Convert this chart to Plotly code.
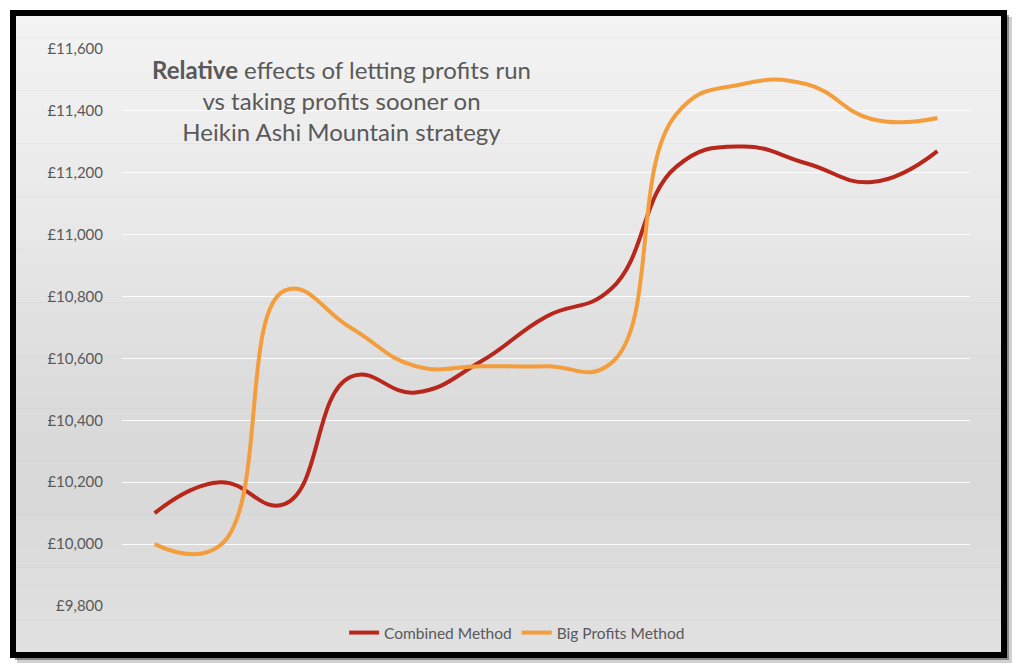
import plotly.graph_objects as go

# trade number (x categories, no labels shown on the chart)
trades = [1, 2, 3, 4, 5, 6, 7, 8, 9, 10, 11, 12, 13]

combined = [10100, 10200, 10130, 10540, 10490, 10590, 10735, 10825, 11220, 11285, 11230, 11170, 11270]
big_profits = [10000, 9995, 10820, 10700, 10575, 10575, 10575, 10585, 11390, 11486, 11486, 11373, 11377]

y_ticks = [9800, 10000, 10200, 10400, 10600, 10800, 11000, 11200, 11400, 11600]
y_labels = ["£9,800", "£10,000", "£10,200", "£10,400", "£10,600", "£10,800",
            "£11,000", "£11,200", "£11,400", "£11,600"]

title_text = ("<b>Relative</b> effects of letting profits run<br>"
              "vs taking profits sooner on<br>Heikin Ashi Mountain strategy")

W, H = 1024, 671
L, R, T, B = 122, 970, 49, 606


def px(x):
    return (x - L) / (R - L)


def py(y):
    return (B - y) / (B - T)


shapes = []

# drop shadow behind the frame
shapes.append(dict(type="rect", xref="paper", yref="paper", layer="below",
                   x0=px(17), x1=px(1012), y0=py(663), y1=py(17),
                   fillcolor="rgba(0,0,0,0.18)", line_width=0))
shapes.append(dict(type="rect", xref="paper", yref="paper", layer="below",
                   x0=px(15), x1=px(1009), y0=py(660), y1=py(15),
                   fillcolor="rgba(0,0,0,0.35)", line_width=0))

# gradient background, done as thin bands
top, bottom = 16, 652
n = 60
stops = [(16, 243), (200, 234), (400, 219), (500, 217), (652, 225)]


def grey_at(y):
    for (y0, c0), (y1, c1) in zip(stops, stops[1:]):
        if y0 <= y <= y1:
            return c0 + (c1 - c0) * (y - y0) / (y1 - y0)
    return stops[-1][1]


for i in range(n):
    y0 = top + (bottom - top) * i / n
    y1 = top + (bottom - top) * (i + 1) / n
    g = int(round(grey_at((y0 + y1) / 2)))
    shapes.append(dict(type="rect", xref="paper", yref="paper", layer="below",
                       x0=px(16), x1=px(1001), y0=py(y1 + 0.5), y1=py(y0),
                       fillcolor="rgb(%d,%d,%d)" % (g, g, g), line_width=0))

# black frame
shapes.append(dict(type="rect", xref="paper", yref="paper", layer="below",
                   x0=px(13), x1=px(1004), y0=py(655), y1=py(13),
                   fillcolor="rgba(0,0,0,0)", line=dict(color="black", width=6)))

fig = go.Figure()
fig.add_trace(go.Scatter(x=trades, y=combined, mode="lines", name="Combined Method",
                         line=dict(color="#B8271C", width=4, shape="spline", smoothing=1.3)))
fig.add_trace(go.Scatter(x=trades, y=big_profits, mode="lines", name="Big Profits Method",
                         line=dict(color="#F39D3D", width=4, shape="spline", smoothing=1.3)))

fig.update_layout(
    width=W, height=H,
    margin=dict(l=L, r=W - R, t=T, b=H - B, autoexpand=False),
    paper_bgcolor="white",
    plot_bgcolor="rgba(0,0,0,0)",
    font=dict(family="Lato, sans-serif", color="#595959", size=15),
    shapes=shapes,
    showlegend=True,
    legend=dict(orientation="h", xref="container", yref="container",
                x=0.505, xanchor="center", y=1 - 633 / H, yanchor="middle",
                bgcolor="rgba(0,0,0,0)", font=dict(size=15.5, color="#595959"),
                itemwidth=30),
    annotations=[dict(text=title_text, xref="paper", yref="paper",
                      x=px(341), y=py(100), xanchor="center", yanchor="middle",
                      showarrow=False, align="center",
                      font=dict(family="Lato, sans-serif", size=24, color="#595959"))],
)

fig.update_xaxes(type="category", range=[-0.5, len(trades) - 0.5], showgrid=False,
                 showticklabels=False, zeroline=False, showline=False, ticks="")
fig.update_yaxes(range=[9800, 11600], tickvals=y_ticks, ticktext=y_labels,
                 showgrid=True, gridcolor="rgba(255,255,255,0.9)", gridwidth=1.3,
                 zeroline=False, showline=False, ticks="outside", ticklen=15,
                 tickcolor="rgba(0,0,0,0)")

# page body has a default margin that pushes the figure off by 8px
fig.write_html("out.html", config={"displayModeBar": False},
               post_script="document.body.style.margin='0';")
